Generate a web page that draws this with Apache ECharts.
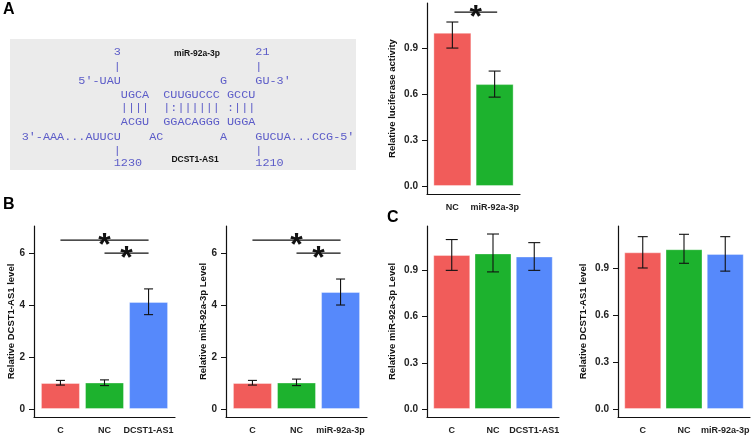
<!DOCTYPE html>
<html>
<head>
<meta charset="utf-8">
<script src="https://cdn.jsdelivr.net/npm/echarts@6/dist/echarts.min.js"></script>
<style>
  html, body { margin: 0; padding: 0; background: #fff; }
  #main { width: 752px; height: 435px; }
</style>
</head>
<body>
<div id="main"></div>
<script>
// bar colours by position in each panel
const barColors = ['#f15c5a', '#1db22e', '#5689fb'];

// A: luciferase
const lucCats = ['NC', 'miR-92a-3p'];
const lucMean = [1.0, 0.665];
const lucLow = [0.90, 0.58];
const lucHigh = [1.07, 0.75];
const lucSig = [[1.05, 2.06, 1.135]];
const fracTicks = [0, 0.3, 0.6, 0.9];

// B: overexpression
const dcstCats = ['C', 'NC', 'DCST1-AS1'];
const dcstMean = [1.0, 1.02, 4.12];
const dcstLow = [0.92, 0.90, 3.63];
const dcstHigh = [1.10, 1.12, 4.62];
const mirCats = ['C', 'NC', 'miR-92a-3p'];
const mirMean = [1.0, 1.02, 4.5];
const mirLow = [0.92, 0.90, 4.0];
const mirHigh = [1.10, 1.15, 5.0];
const overSig = [[1, 3, 6.5], [2, 3, 6.0]];
const overTicks = [0, 2, 4, 6];

// C: cross effects
const crossMirMean = [1.0, 1.01, 0.99];
const crossMirLow = [0.90, 0.89, 0.90];
const crossMirHigh = [1.10, 1.136, 1.08];
const crossDcstMean = [1.0, 1.02, 0.99];
const crossDcstLow = [0.90, 0.93, 0.88];
const crossDcstHigh = [1.10, 1.115, 1.10];

// sequence alignment text
const sp = n => ' '.repeat(n);
const seqLines = [
  sp(13) + '3' + sp(19) + '21',
  sp(13) + '|' + sp(19) + '|',
  sp(8) + "5'-UAU" + sp(14) + 'G' + sp(4) + "GU-3'",
  sp(14) + 'UGCA' + sp(2) + 'CUUGUCCC' + sp(1) + 'GCCU',
  sp(14) + '||||' + sp(2) + '|:||||||' + sp(1) + ':|||',
  sp(14) + 'ACGU' + sp(2) + 'GGACAGGG' + sp(1) + 'UGGA',
  "3'-AAA...AUUCU" + sp(4) + 'AC' + sp(8) + 'A' + sp(4) + "GUCUA...CCG-5'",
  sp(13) + '|' + sp(19) + '|',
  sp(13) + '1230' + sp(16) + '1210'
];
const seqRowY = [52, 67, 81, 95, 108, 122, 137, 151, 163];

const panels = [
  { cats: lucCats, mean: lucMean, low: lucLow, high: lucHigh, sig: lucSig,
    grid: { left: 427, top: 3, width: 93, height: 191 }, yMin: -0.052, yMax: 1.194,
    ticks: fracTicks, dec: 1, name: 'Relative luciferase activity', nameGap: 30, barW: 38, cap: 6 },
  { cats: dcstCats, mean: dcstMean, low: dcstLow, high: dcstHigh, sig: overSig,
    grid: { left: 34, top: 226, width: 141, height: 191 }, yMin: -0.308, yMax: 7.04,
    ticks: overTicks, dec: 0, name: 'Relative DCST1-AS1 level', nameGap: 18, barW: 39, cap: 4.5 },
  { cats: mirCats, mean: mirMean, low: mirLow, high: mirHigh, sig: overSig,
    grid: { left: 226, top: 226, width: 141, height: 191 }, yMin: -0.308, yMax: 7.04,
    ticks: overTicks, dec: 0, name: 'Relative miR-92a-3p Level', nameGap: 18, barW: 39, cap: 4.5 },
  { cats: dcstCats, mean: crossMirMean, low: crossMirLow, high: crossMirHigh, sig: [],
    grid: { left: 427, top: 226, width: 132, height: 191 }, yMin: -0.052, yMax: 1.188,
    ticks: fracTicks, dec: 1, name: 'Relative miR-92a-3p Level', nameGap: 30, barW: 37, cap: 6 },
  { cats: mirCats, mean: crossDcstMean, low: crossDcstLow, high: crossDcstHigh, sig: [],
    grid: { left: 618, top: 226, width: 132, height: 191 }, yMin: -0.051, yMax: 1.168,
    ticks: fracTicks, dec: 1, name: 'Relative DCST1-AS1 level', nameGap: 30, barW: 37, cap: 5 }
];

const labelFont = 'Liberation Sans';
const ink = '#111';

const grids = [], xAxes = [], yAxes = [], series = [];
panels.forEach((p, i) => {
  grids.push(Object.assign({ outerBoundsMode: 'none', containLabel: false }, p.grid));
  const xVals = p.cats.map((c, k) => k + 1);
  xAxes.push({
    type: 'value', gridIndex: i, min: 0.4, max: p.cats.length + 0.6,
    splitLine: { show: false },
    axisLine: { onZero: false, lineStyle: { color: ink, width: 1.2 } },
    axisTick: { show: false },
    axisLabel: {
      customValues: xVals, formatter: v => p.cats[Math.round(v) - 1] || '',
      margin: 9, fontSize: 9, fontWeight: 'bold', color: '#222', fontFamily: labelFont
    }
  });
  yAxes.push({
    type: 'value', gridIndex: i, min: p.yMin, max: p.yMax,
    name: p.name, nameLocation: 'middle', nameGap: p.nameGap, nameMoveOverlap: false,
    nameTextStyle: { fontSize: 9.5, fontWeight: 'bold', color: ink, fontFamily: labelFont },
    splitLine: { show: false },
    axisLine: { show: true, lineStyle: { color: ink, width: 1.2 } },
    axisTick: { show: true, customValues: p.ticks, length: 5, lineStyle: { color: ink, width: 1 } },
    axisLabel: {
      customValues: p.ticks, formatter: v => v.toFixed(p.dec),
      margin: 9, fontSize: 10, fontWeight: 'bold', color: '#222', fontFamily: labelFont
    }
  });
  series.push({
    type: 'bar', xAxisIndex: i, yAxisIndex: i, barWidth: p.barW, silent: true, z: 2,
    data: p.mean.map((m, k) => ({
      value: [k + 1, m],
      itemStyle: { color: barColors[k], borderColor: 'rgba(255,255,255,0.35)', borderWidth: 1 }
    }))
  });
  series.push({
    type: 'custom', xAxisIndex: i, yAxisIndex: i, silent: true, z: 5,
    data: p.mean.map((m, k) => [k + 1, p.low[k], p.high[k]]),
    renderItem: (params, api) => {
      const x = api.value(0);
      const lo = api.coord([x, api.value(1)]);
      const hi = api.coord([x, api.value(2)]);
      const st = { stroke: ink, lineWidth: 1.1 };
      return {
        type: 'group', children: [
          { type: 'line', shape: { x1: lo[0], y1: lo[1], x2: hi[0], y2: hi[1] }, style: st },
          { type: 'line', shape: { x1: lo[0] - p.cap, y1: lo[1], x2: lo[0] + p.cap, y2: lo[1] }, style: st },
          { type: 'line', shape: { x1: hi[0] - p.cap, y1: hi[1], x2: hi[0] + p.cap, y2: hi[1] }, style: st }
        ]
      };
    }
  });
  if (p.sig.length) {
    series.push({
      type: 'custom', xAxisIndex: i, yAxisIndex: i, silent: true, clip: false, z: 5,
      data: p.sig,
      renderItem: (params, api) => {
        const a = api.coord([api.value(0), api.value(2)]);
        const b = api.coord([api.value(1), api.value(2)]);
        return {
          type: 'group', children: [
            { type: 'line', shape: { x1: a[0], y1: a[1], x2: b[0], y2: b[1] },
              style: { stroke: ink, lineWidth: 1.3 } },
            { type: 'text', x: (a[0] + b[0]) / 2, y: a[1] + 6,
              style: { text: '*', font: 'bold 32px "Liberation Sans"', fill: ink,
                       align: 'center', verticalAlign: 'middle',
                       textAlign: 'center', textVerticalAlign: 'middle' } }
          ]
        };
      }
    });
  }
});

const graphics = [
  { type: 'rect', shape: { x: 10, y: 39, width: 346, height: 131 }, style: { fill: '#ebebeb' }, silent: true }
];
seqLines.forEach((line, r) => {
  graphics.push({
    type: 'text', x: 21.7, y: seqRowY[r], silent: true,
    style: { text: line, font: '11.8px "Liberation Mono"', fill: '#5c5cc8',
             align: 'left', verticalAlign: 'middle', textAlign: 'left', textVerticalAlign: 'middle' }
  });
});
const plainLabels = [
  { text: 'miR-92a-3p', x: 197, y: 54 },
  { text: 'DCST1-AS1', x: 195, y: 160 }
];
plainLabels.forEach(l => graphics.push({
  type: 'text', x: l.x, y: l.y, silent: true,
  style: { text: l.text, font: 'bold 8.5px "Liberation Sans"', fill: ink,
           align: 'center', verticalAlign: 'middle', textAlign: 'center', textVerticalAlign: 'middle' }
}));
const panelLetters = [
  { text: 'A', x: 3, y: 10 },
  { text: 'B', x: 3, y: 205 },
  { text: 'C', x: 387, y: 218 }
];
panelLetters.forEach(l => graphics.push({
  type: 'text', x: l.x, y: l.y, silent: true,
  style: { text: l.text, font: 'bold 16px "Liberation Sans"', fill: '#000',
           align: 'left', verticalAlign: 'middle', textAlign: 'left', textVerticalAlign: 'middle' }
}));

const chart = echarts.init(document.getElementById('main'), null, { renderer: 'canvas' });
chart.setOption({
  animation: false,
  backgroundColor: '#fff',
  grid: grids,
  xAxis: xAxes,
  yAxis: yAxes,
  series: series,
  graphic: graphics
});
</script>
</body>
</html>
